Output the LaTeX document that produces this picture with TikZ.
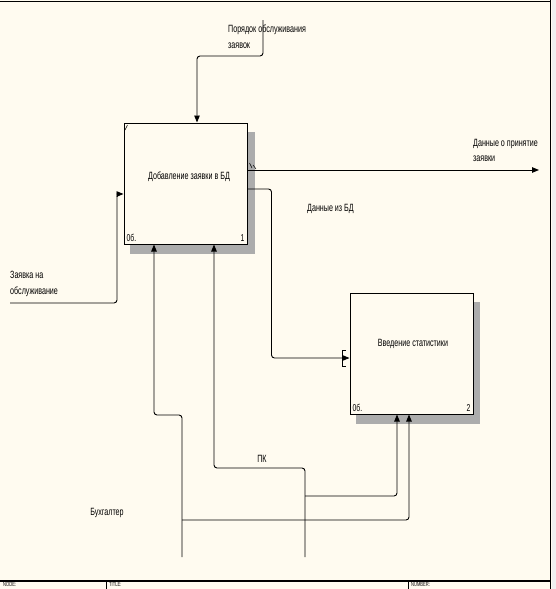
\documentclass[tikz,border=0pt]{standalone}
\usepackage{fontspec}
\setmainfont{Liberation Sans}[FakeStretch=0.68]
\usetikzlibrary{arrows.meta,positioning,backgrounds}
\definecolor{paper}{HTML}{FFFBF0}
\tikzset{
  func/.style={draw, rectangle, fill=paper, minimum width=123pt, minimum height=121pt, inner sep=0pt, line width=1pt},
  shade/.style={fill=gray!65},
  arrow/.style={-{Triangle[length=7pt,width=5.5pt]}, line width=0.9pt, rounded corners=3pt},
  lbl/.style={font=\fontsize{10.5}{15.5}\selectfont, align=left, inner sep=0pt, anchor=north west},
  ftext/.style={font=\fontsize{10.5}{11}\selectfont, inner sep=0pt},
  num/.style={font=\fontsize{10}{10}\selectfont, inner sep=0pt},
  frametext/.style={font=\fontsize{6}{6}\selectfont, inner sep=0pt, anchor=north west}
}

\begin{document}
\begin{tikzpicture}[x=1pt,y=-1pt]
  \useasboundingbox (0,0) rectangle (556,589);

  % activity boxes
  \node[func] (box1) at (185.5,183.5) {};
  \node[func] (box2) at (411.5,353.5) {};
  \node[ftext] (t1) at ([shift={(3.5,-6.5)}]box1.center) {Добавление заявки в БД};
  \node[ftext] (t2) at ([shift={(1.5,-9.5)}]box2.center) {Введение статистики};
  \node[num, anchor=south west] (n1a) at ([shift={(3,-3)}]box1.south west) {0б.};
  \node[num, anchor=south east] (n1b) at ([shift={(-3,-3)}]box1.south east) {1};
  \node[num, anchor=south west] (n2a) at ([shift={(3,-3)}]box2.south west) {0б.};
  \node[num, anchor=south east] (n2b) at ([shift={(-3,-3)}]box2.south east) {2};

  \begin{scope}[on background layer]
    \fill[paper] (0,0) rectangle (552,589);
    \fill[gray!12] (552,0) rectangle (556,589);
    \fill[shade] ([shift={(6,9)}]box1.north west) rectangle ([shift={(7,9)}]box1.south east);
    \fill[shade] ([shift={(6,9)}]box2.north west) rectangle ([shift={(6,9)}]box2.south east);
  \end{scope}

  % frame
  \draw[line width=1pt] (0,1.5) -- (550,1.5);
  \draw[line width=1pt] (550,0) -- (550,589);
  \draw[line width=1.6pt] (0,581) -- (550,581);
  \draw (106,581) -- (106,589);
  \draw (408,581) -- (408,589);
  \node[frametext] (node) at (3,582.5) {NODE:};
  \node[frametext] (title) at (109,582.5) {TITLE:};
  \node[frametext] (number) at (411,582.5) {NUMBER:};

  % control
  \coordinate (ctl) at (263,20);
  \draw[arrow] (ctl) -- ++(0,36) -| ([xshift=11.5pt]box1.north);
  \node[lbl] (ctllbl) at (228,25) {Порядок обслуживания\\заявок};

  % input
  \coordinate (inp) at (10,303);
  \draw[arrow] (inp) -- ++(107,0) |- ([yshift=-10.5pt]box1.west);
  \node[lbl] (inplbl) at (10,271) {Заявка на\\обслуживание};

  % outputs
  \coordinate (out1) at (539,170);
  \draw[arrow] ([yshift=13.5pt]box1.east) -- (out1);
  \draw[line width=0.5pt] (249.5,163) -- (252,168) (253,165) -- (256,169);
  \node[lbl] (outlbl) at (473,139) {Данные о принятие\\заявки};
  \draw[arrow] ([yshift=-5.5pt]box1.east) -- ++(24,0) |- ([yshift=-4.5pt]box2.west);
  \draw[line width=0.6pt] (346,350) -- (342,350) -- (342,366) -- (346,366);
  \node[lbl] (bdlbl) at (307,204) {Данные из БД};
  \draw[line width=0.5pt] (125,130) -- (127.5,125);

  % mechanisms
  \coordinate (buh) at (182,557);
  \coordinate (pk) at (305,557);
  \draw[arrow] (buh) -- ++(0,-142) -| ([xshift=-31.5pt]box1.south);
  \draw[arrow] (pk) -- ++(0,-89) -| ([xshift=28.5pt]box1.south);
  \path (buh) ++(0,-37) coordinate (buhj);
  \path (pk) ++(0,-61) coordinate (pkj);
  \draw[arrow] (buhj) -| ([xshift=-2.5pt]box2.south);
  \draw[arrow] (pkj) -| ([xshift=-14.5pt]box2.south);
  \node[ftext] (pklbl) at (262,459) {ПК};
  \node[ftext] (buhlbl) at (107,513) {Бухгалтер};
\end{tikzpicture}
\end{document}
